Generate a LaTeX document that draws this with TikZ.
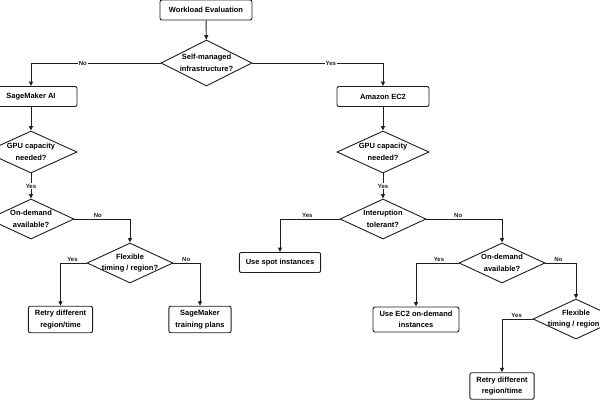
\documentclass[tikz,border=0pt]{standalone}
\usepackage{fontspec}
\setmainfont{Liberation Sans}
\usetikzlibrary{arrows.meta, shapes.geometric}
\definecolor{cink}{HTML}{1E1E1E}
\tikzset{
  every picture/.style={font=\bfseries\fontsize{7.5}{11.5}\selectfont, line width=0.9pt},
  box/.style={draw=cink, fill=white, rounded corners=2pt, align=center, inner xsep=6.5pt, inner ysep=4pt, minimum height=20pt},
  wide/.style={minimum width=92pt},
  decision/.style={draw=cink, fill=white, diamond, aspect=2, align=center, inner sep=-5pt, minimum width=86pt, minimum height=40pt},
  arrow/.style={-{Triangle[length=4.5pt, width=4pt]}, draw=cink, line width=0.9pt},
  tag/.style={font=\bfseries\fontsize{6}{7}\selectfont, text=cink, inner sep=1pt},
}
\begin{document}
\begin{tikzpicture}[x=1pt, y=-1pt]
  \useasboundingbox (0,0) rectangle (600,400);
  % top
  \node[box, wide] (eval) at (206,10) {Workload Evaluation};
  \node[decision, minimum width=91pt, minimum height=46pt] (selfm) at (206.5,63) {Self-managed\\infrastructure?};
  \node[box, wide] (sm) at (31,96.5) {SageMaker AI};
  \node[box, wide] (ec2) at (383,96.5) {Amazon EC2};
  % GPU question, both sides
  \foreach \n/\x in {gpuL/31, gpuR/383}
    \node[decision, minimum width=92pt, minimum height=42pt] (\n) at (\x,152) {GPU capacity\\needed?};
  \node[decision] (odL) at (31,219) {On-demand\\available?};
  \node[decision] (intr) at (383,219) {Interuption\\tolerant?};
  % third row
  \node[decision] (flexL) at (130,263) {Flexible\\timing / region?};
  \node[box] (spot) at (280,262.5) {Use spot instances};
  \node[decision] (odR) at (502,263) {On-demand\\available?};
  % outcomes
  \node[box] (retryL) at (60.5,319.5) {Retry different\\region/time};
  \node[box] (planL) at (200,319.5) {SageMaker\\training plans};
  \node[box] (ec2od) at (416,319.5) {Use EC2 on-demand\\instances};
  \node[decision] (flexR) at (576,319) {Flexible\\timing / region?};
  \node[box] (retryR) at (502,386) {Retry different\\region/time};

  \draw[arrow] (eval) -- (selfm);
  \draw[arrow] (selfm.west) -| node[tag, fill=white, pos=0.3] {No} (sm.north);
  \draw[arrow] (selfm.east) -| node[tag, fill=white, pos=0.3] {Yes} (ec2.north);
  \draw[arrow] (sm) -- (gpuL);
  \draw[arrow] (ec2) -- (gpuR);
  \draw[arrow] (gpuL) -- node[tag, fill=white] {Yes} (odL);
  \draw[arrow] (gpuR) -- node[tag, fill=white] {Yes} (intr);
  % side branches, label above the line
  \foreach \a/\b/\t/\p in {odL.east/flexL.north/No/0.21, flexL.west/retryL.north/Yes/0.27,
      flexL.east/planL.north/No/0.24, intr.west/spot.north/Yes/0.27, intr.east/odR.north/No/0.21,
      odR.west/ec2od.north/Yes/0.23, odR.east/flexR.north/No/0.21, flexR.west/retryR.north/Yes/0.26}
    \draw[arrow] (\a) -| node[tag, above, pos=\p] {\t} (\b);
\end{tikzpicture}
\end{document}
